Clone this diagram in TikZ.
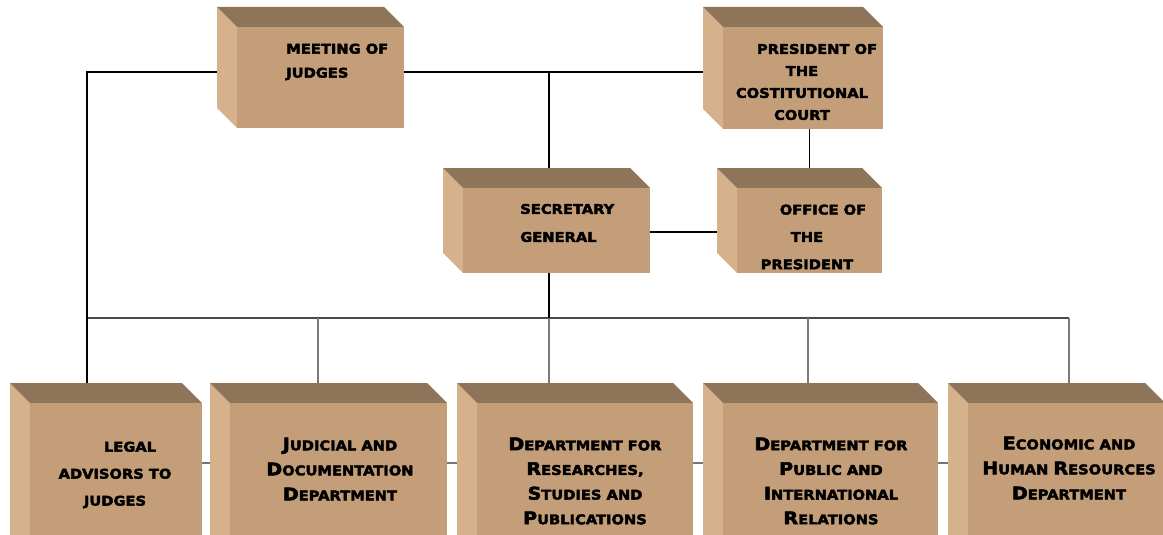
\documentclass[tikz,border=0pt]{standalone}
\usepackage{fontspec}
\newfontfamily\boxfont{DejaVu Sans}[FakeStretch=1.1, BoldFeatures={FakeBold=3}]
\usetikzlibrary{fit,backgrounds}

\definecolor{frontc}{HTML}{C49E78}
\definecolor{topc}{HTML}{8E7458}
\definecolor{sidec}{HTML}{D6B28C}
\definecolor{busc}{HTML}{4A4A4A}
\definecolor{dropc}{HTML}{7A7A7A}
\definecolor{linkc}{HTML}{6E7884}

% larger initial letter for the small-caps style labels
\newcommand\initcap[1]{{\fontsize{13}{13}\selectfont #1}}

% cuboid: name, front face left, top, right, bottom (depth goes up-left)
\newcommand\cuboid[5]{%
  \fill[sidec] (#2-20,#3-20) -- (#2,#3) -- (#2,#5) -- (#2-20,#5-20) -- cycle;
  \fill[topc] (#2-20,#3-20) -- (#4-20,#3-20) -- (#4,#3) -- (#2,#3) -- cycle;
  \node[frontface, fit={(#2,#3) (#4,#5)}] (#1) {};}

\tikzset{
  frontface/.style={fill=frontc, inner sep=0pt, draw=none},
  lbl/.style={font=\boxfont\bfseries\fontsize{10}{#1}\selectfont, inner sep=0pt, text=black},
  lbl/.default=18,
  heavy/.style={draw=black, line width=1.4pt},
  busline/.style={draw=busc, line width=1pt},
  drop/.style={draw=dropc, line width=0.9pt},
  link/.style={draw=linkc, line width=1pt},
}

\begin{document}
\begin{tikzpicture}[x=0.75pt, y=-0.75pt]
\path[use as bounding box] (0,0) rectangle (1163,535);
\clip (0,0) rectangle (1163,535);

% boxes
\cuboid{meet}{237}{27}{404}{128}
\cuboid{pres}{723}{27}{883}{129}
\cuboid{sec}{463}{188}{650}{273}
\cuboid{off}{737}{188}{882}{273}
\cuboid{leg}{30}{403}{202}{555}
\cuboid{jud}{230}{403}{447}{555}
\cuboid{res}{477}{403}{693}{555}
\cuboid{pub}{723}{403}{938}{555}
\cuboid{eco}{968}{403}{1165}{555}

% labels
\node[lbl=18, align=left, anchor=west] (meet-t) at (286,62) {MEETING OF\\JUDGES};
\node[lbl=16.5, align=center] (pres-t) at (802,82)
  {\hspace*{22.5pt}PRESIDENT OF\\THE\\COSTITUTIONAL\\COURT};
\node[lbl=21, align=left, anchor=west] (sec-t) at (520,223) {SECRETARY\\GENERAL};
\node[lbl=20.5, align=center] (off-t) at (807,237)
  {\hspace*{24pt}OFFICE OF\\THE\\PRESIDENT};
\node[lbl=20.25, align=center] (leg-t) at (115,475)
  {\hspace*{22.5pt}LEGAL\\ADVISORS TO\\JUDGES};
\node[lbl=18.75, align=center] (jud-t) at (340,469)
  {\initcap{J}UDICIAL AND\\\initcap{D}OCUMENTATION\\\initcap{D}EPARTMENT};
\node[lbl=18.5, align=center] (res-t) at (585,481)
  {\initcap{D}EPARTMENT FOR\\\initcap{R}ESEARCHES,\\\initcap{S}TUDIES AND\\\initcap{P}UBLICATIONS};
\node[lbl=18.5, align=center] (pub-t) at (831,481)
  {\initcap{D}EPARTMENT FOR\\\initcap{P}UBLIC AND\\\initcap{I}NTERNATIONAL\\\initcap{R}ELATIONS};
\node[lbl=18.75, align=center] (eco-t) at (1069,468)
  {\initcap{E}CONOMIC AND\\\initcap{H}UMAN \initcap{R}ESOURCES\\\initcap{D}EPARTMENT};

% junction points of the connectors
\coordinate (j1) at (87,72);
\coordinate (j2) at (549,72);
\coordinate (bus) at (87,318);
\coordinate (busE) at (1069,318);
\coordinate (d2) at (318,318);
\coordinate (d3) at (549,318);
\coordinate (d4) at (808,318);
\coordinate (so) at (0,232);
\coordinate (row) at (0,463);

% connectors, behind the boxes
\begin{pgfonlayer}{background}
  \draw[busline] (bus) -- (busE);
  \draw[drop] (d2) -- (d2 |- jud.north);
  \draw[drop] (d3) -- (d3 |- res.north);
  \draw[drop] (d4) -- (d4 |- pub.north);
  \draw[drop] (busE) -- (busE |- eco.north);
  \draw[heavy] (meet.west |- j1) -- (j1) -- (j1 |- leg.north);
  \draw[heavy] (meet.east |- j1) -- (pres.west |- j1);
  \draw[heavy] (j2) -- (j2 |- sec.north);
  \draw[heavy] (j2 |- sec.south) -- (d3);
  \draw[heavy] (off.north |- pres.south) -- (off.north);
  \draw[heavy] (sec.east |- so) -- (off.west |- so);
  \draw[link] (leg.east |- row) -- (jud.west |- row);
  \draw[link] (jud.east |- row) -- (res.west |- row);
  \draw[link] (res.east |- row) -- (pub.west |- row);
  \draw[link] (pub.east |- row) -- (eco.west |- row);
\end{pgfonlayer}
\end{tikzpicture}
\end{document}
